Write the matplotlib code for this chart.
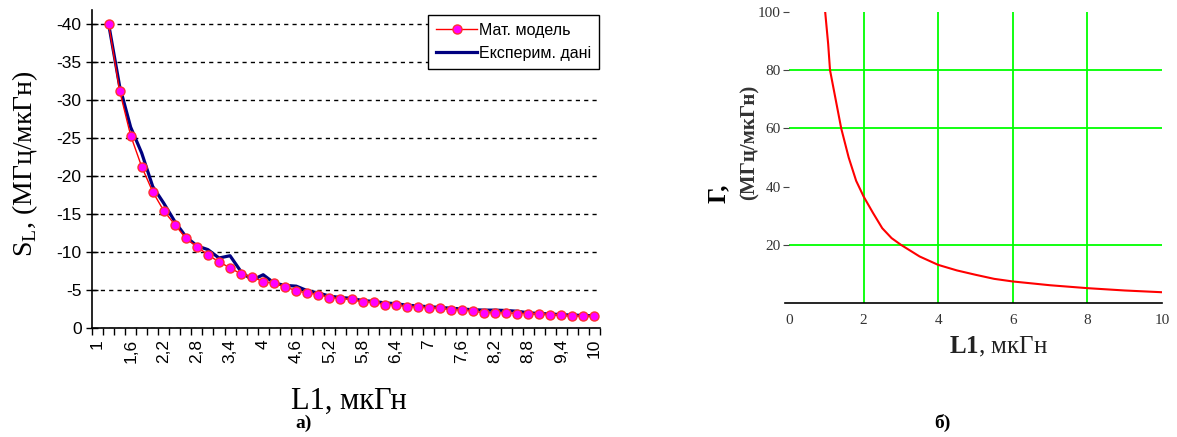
import numpy as np
import matplotlib
matplotlib.use("Agg")
import matplotlib.pyplot as plt

plt.rcParams['axes.unicode_minus'] = False
plt.rcParams['mathtext.fontset'] = 'custom'
plt.rcParams['mathtext.rm'] = 'Liberation Serif'
plt.rcParams['mathtext.bf'] = 'Liberation Serif:bold'
plt.rcParams['font.family'] = ['Liberation Serif', 'DejaVu Serif']

# --- panel a): Excel-style category chart, L1 = 1.0 .. 10.0 step 0.2
categories = ['1', '1,2', '1,4', '1,6', '1,8', '2', '2,2', '2,4', '2,6', '2,8',
              '3', '3,2', '3,4', '3,6', '3,8', '4', '4,2', '4,4', '4,6', '4,8',
              '5', '5,2', '5,4', '5,6', '5,8', '6', '6,2', '6,4', '6,6', '6,8',
              '7', '7,2', '7,4', '7,6', '7,8', '8', '8,2', '8,4', '8,6', '8,8',
              '9', '9,2', '9,4', '9,6', '9,8', '10']
# values start at 1,2 (category index 1)
model_vals = [-40.0, -31.2, -25.3, -21.2, -17.9, -15.4, -13.6, -11.8, -10.7, -9.6,
              -8.7, -7.9, -7.1, -6.7, -6.1, -5.85, -5.4, -4.9, -4.6, -4.4,
              -4.0, -3.85, -3.8, -3.4, -3.4, -3.05, -3.05, -2.8, -2.8, -2.6,
              -2.6, -2.4, -2.4, -2.2, -2.0, -2.0, -2.0, -1.9, -1.9, -1.9,
              -1.75, -1.75, -1.55, -1.55, -1.55]
exper_vals = [-40.0, -31.8, -26.4, -23.0, -18.6, -16.4, -14.0, -12.0, -10.8, -10.3,
              -9.2, -9.5, -7.4, -6.3, -7.0, -5.9, -5.6, -5.5, -4.9, -4.6,
              -4.2, -4.0, -3.9, -3.6, -3.5, -3.3, -3.2, -3.0, -2.9, -2.8,
              -2.7, -2.6, -2.5, -2.4, -2.35, -2.35, -2.3, -2.2, -2.0, -1.9,
              -1.85, -1.75, -1.7, -1.65, -1.6]
y_ticks_a = [0, -5, -10, -15, -20, -25, -30, -35, -40]

# --- panel b): Mathcad curve
l1_b = [0.97, 1.05, 1.1, 1.25, 1.4, 1.6, 1.8, 2.0, 2.25, 2.5, 2.75, 3.0, 3.5, 4.0,
        4.5, 5.0, 5.5, 6.0, 7.0, 8.0, 9.0, 10.0]
gamma_b = [100, 89, 80, 70, 60, 50, 42, 36.6, 31, 25.7, 22.3, 20.0, 16.0, 13.1,
           11.2, 9.7, 8.3, 7.4, 6.1, 5.1, 4.3, 3.7]
x_ticks_b = [0, 2, 4, 6, 8, 10]
y_ticks_b = [20, 40, 60, 80, 100]
x_grid_b = [2, 4, 6, 8]
y_grid_b = [20, 60, 80]

fig = plt.figure(figsize=(11.77, 4.37), dpi=100)

ax = fig.add_axes([92/1177, 1-328/437, 508/1177, 318/437])
idx = np.arange(len(categories))
pts = idx[1:1+len(model_vals)]
ax.plot(pts, exper_vals, color='#000080', linewidth=2.3, zorder=3, label='Експерим. дані')
ax.plot(pts, model_vals, color='#ff0000', linewidth=1, marker='o', markersize=6.5,
        markerfacecolor='#ff00ff', markeredgecolor='#ff3030', markeredgewidth=1,
        zorder=4, label='Мат. модель')
ax.set_xlim(-0.5, len(categories) - 0.5)
ax.set_ylim(0, -41.8)
ax.set_yticks(y_ticks_a)
ax.set_yticklabels([str(v) for v in y_ticks_a], fontsize=12.5, family='Liberation Sans')
ax.tick_params(axis='y', direction='inout', length=8, width=1)
ax.set_xticks(np.arange(-0.5, len(categories), 1))
ax.set_xticklabels([])
ax.tick_params(axis='x', direction='out', length=5, width=1)
ax.set_xticks(idx[::3], minor=True)
ax.set_xticklabels(categories[::3], minor=True, rotation=90, fontsize=12.5, va='top',
                   family='Liberation Sans')
ax.tick_params(axis='x', which='minor', length=0, pad=8)
ax.grid(axis='y', color='black', linestyle=(0, (3, 3)), linewidth=1)
for s in ['top', 'right']:
    ax.spines[s].set_visible(False)
for s in ['left', 'bottom']:
    ax.spines[s].set_linewidth(1.2)
h, l = ax.get_legend_handles_labels()
leg = ax.legend(h[::-1], l[::-1], loc='upper right', bbox_to_anchor=(0.998, 0.985),
                borderaxespad=0, frameon=True, fancybox=False, edgecolor='black',
                framealpha=1, prop={'family': 'Liberation Sans', 'size': 11.5},
                handlelength=2.6, handletextpad=0.1, borderpad=0.5, labelspacing=0.5)
leg.get_frame().set_linewidth(1)
fig.text(25/1177, 1-164/437, r'$\mathrm{S}_\mathrm{L}$, (МГц/мкГн)', rotation=90,
         ha='center', va='center', fontsize=20)
fig.text(349/1177, 1-401/437, 'L1, мкГн', ha='center', va='center', fontsize=22)
fig.text(304/1177, 1-423/437, 'а)', ha='center', va='center', fontsize=14, fontweight='bold')

# panel b
bx = fig.add_axes([789/1177, 1-303/437, 373/1177, 291/437])
for v in x_grid_b:
    bx.axvline(v, color='#00ff00', linewidth=1.3, zorder=1)
for v in y_grid_b:
    bx.axhline(v, color='#00ff00', linewidth=1.3, zorder=1)
bx.plot(l1_b, gamma_b, color='#ff0000', linewidth=1.5, zorder=3)
bx.set_xlim(0, 10)
bx.set_ylim(0, 100)
bx.set_xticks(x_ticks_b)
bx.set_xticklabels([str(v) for v in x_ticks_b], fontsize=11, color='#333333')
bx.set_yticks(y_ticks_b)
bx.set_yticklabels([str(v) for v in y_ticks_b], fontsize=11, color='#333333')
bx.tick_params(axis='x', length=0, pad=8)
bx.tick_params(axis='y', length=4, pad=2, color='#444444')
for s in ['top', 'right', 'left']:
    bx.spines[s].set_visible(False)
bx.spines['bottom'].set_linewidth(1.2)
bx.spines['bottom'].set_bounds(-0.12, 10)
fig.text(718/1177, 1-193/437, 'Г,', rotation=90, ha='center', va='center',
         fontsize=18, fontweight='bold')
fig.text(750/1177, 1-142/437, '(МГц/мкГн)', rotation=90, ha='center', va='center',
         fontsize=15, fontweight='bold', color='#333333')
fig.text(998/1177, 1-347/437, r'$\mathbf{L1}$, мкГн', ha='center', va='center',
         fontsize=18, color='#222222')
fig.text(942/1177, 1-423/437, 'б)', ha='center', va='center', fontsize=14, fontweight='bold')

fig.savefig('out.png', dpi=100)
